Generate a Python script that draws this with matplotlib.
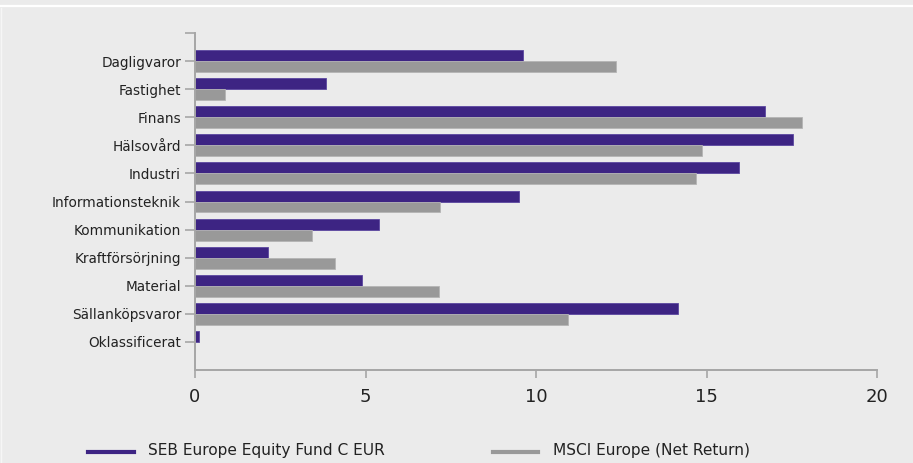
import matplotlib
matplotlib.use('Agg')
import matplotlib.pyplot as plt
from matplotlib.lines import Line2D
import numpy as np

# Data (sector weights, %)
sectors = ['Dagligvaror', 'Fastighet', 'Finans', 'Hälsovård', 'Industri',
           'Informationsteknik', 'Kommunikation', 'Kraftförsörjning',
           'Material', 'Sällanköpsvaror', 'Oklassificerat']
fund = [9.61, 3.83, 16.73, 17.53, 15.94, 9.50, 5.41, 2.13, 4.90, 14.16, 0.11]
index = [12.36, 0.88, 17.79, 14.86, 14.68, 7.18, 3.43, 4.11, 7.16, 10.94, 0.0]
series_names = ['SEB Europe Equity Fund C EUR', 'MSCI Europe (Net Return)']
xticks = [0, 5, 10, 15, 20]

purple = '#3d2483'
grey = '#999999'
bg = '#ebebeb'
axis_col = '#a6a6a6'

plt.rcParams['font.family'] = ['Liberation Sans Narrow', 'DejaVu Sans']

W, H = 913, 463
fig = plt.figure(figsize=(W / 100, H / 100), dpi=100, facecolor=bg)
ax = fig.add_axes([195 / W, 1 - 370 / H, (877 - 195) / W, (370 - 33) / H])
ax.set_facecolor(bg)

pos = np.arange(1, len(sectors) + 1)
h = 0.39
ax.barh(pos - h / 2, fund, height=h, color=purple, edgecolor='#5c47a0', linewidth=0.6)
ax.barh(pos + h / 2, index, height=h, color=grey, edgecolor='#b5b5b5', linewidth=0.6)

ax.set_xlim(0, 20)
ax.set_ylim(12, 0)
ax.set_xticks(xticks)
ax.set_xticklabels([str(t) for t in xticks], fontsize=13, color='#222222')
ax.set_yticks(pos)
ax.set_yticklabels(sectors, fontsize=9.8, color='#222222')
ax.set_yticks([0], minor=True)

for s in ['top', 'right']:
    ax.spines[s].set_visible(False)
for s in ['left', 'bottom']:
    ax.spines[s].set_color(axis_col)
    ax.spines[s].set_linewidth(1.4)
ax.tick_params(axis='y', which='both', length=7, width=1.2, color=axis_col, pad=3)
ax.tick_params(axis='x', length=6, width=1.2, color=axis_col, pad=7)

# Top white stripe and faint left border
fig.add_artist(Line2D([0, 1], [1 - 6 / H, 1 - 6 / H], color='white', linewidth=1.6))
fig.add_artist(Line2D([0.6 / W, 0.6 / W], [0, 1 - 8 / H], color='#f6f6f6', linewidth=1.0))

# Legend at the bottom (clipped by figure edge)
ly = 1 - 452 / H
fig.add_artist(Line2D([88 / W, 134 / W], [ly, ly], color=purple, linewidth=3))
fig.text(148 / W, 1 - 455.5 / H, series_names[0], fontsize=11.1, color='#222222', va='baseline')
fig.add_artist(Line2D([493 / W, 538 / W], [ly, ly], color=grey, linewidth=3))
fig.text(553 / W, 1 - 455.5 / H, series_names[1], fontsize=11.1, color='#222222', va='baseline')

fig.savefig('out.png', dpi=100, facecolor=bg)
